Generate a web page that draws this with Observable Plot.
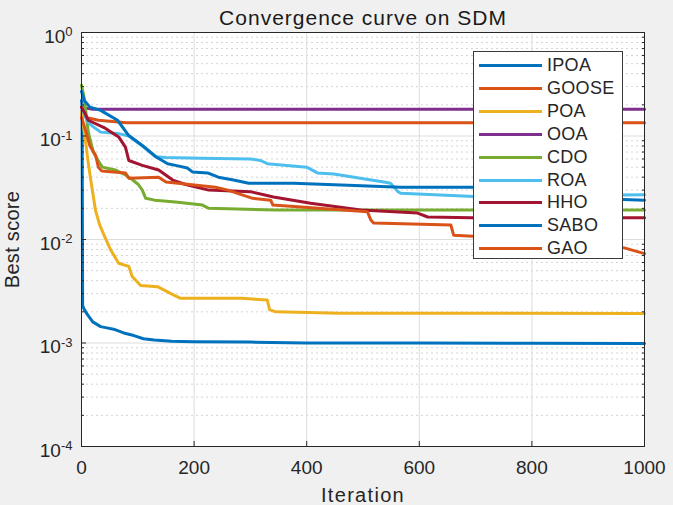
<!DOCTYPE html>
<html><head><meta charset="utf-8">
<script src="https://cdn.jsdelivr.net/npm/d3@7"></script>
<script src="https://cdn.jsdelivr.net/npm/@observablehq/plot@0.6"></script>
<style>
body{margin:0;background:#f0f0f0;font-family:"Liberation Sans",Arial,sans-serif;}
#wrap{position:relative;width:673px;height:505px;overflow:hidden;}
#legend{position:absolute;left:473px;top:51px;width:148px;height:206px;background:#fff;border:1px solid #3a3a3a;}
.row{position:absolute;left:0;width:148px;height:22px;}
.sw{position:absolute;left:5px;width:63px;height:3px;top:10px;}
.lb{position:absolute;left:73px;top:1px;font-size:18px;line-height:20px;color:#262626;letter-spacing:0.3px;}
</style></head><body><div id="wrap"></div><script>
// Convergence data: [iteration, best score]
const IPOA = [[0,0.22],[1,0.2],[2,0.0023],[5,0.0021],[10,0.0019],[20,0.0016],[34,0.00144],[45,0.0014],[57,0.00136],[75,0.00125],[93,0.00118],[110,0.0011],[129,0.00107],[160,0.00104],[200,0.00103],[300,0.00102],[400,0.001],[600,0.001],[800,0.000995],[1000,0.00099]];
const GOOSE = [[0,0.16],[10,0.15],[30,0.142],[60,0.137],[80,0.134],[1000,0.134]];
const POA = [[0,0.17],[3,0.13],[6,0.1],[12,0.055],[18,0.033],[25,0.019],[32,0.014],[40,0.011],[52,0.0079],[66,0.0059],[84,0.0055],[90,0.0044],[105,0.0036],[135,0.0035],[164,0.0029],[176,0.0027],[284,0.0027],[330,0.0026],[334,0.0021],[345,0.002],[460,0.00194],[1000,0.00193]];
const OOA = [[0,0.2],[8,0.186],[20,0.181],[1000,0.181]];
const CDO = [[0,0.31],[5,0.23],[12,0.109],[21,0.07],[32,0.055],[37,0.05],[60,0.047],[78,0.042],[90,0.038],[101,0.034],[108,0.03],[114,0.025],[130,0.024],[167,0.023],[215,0.0215],[226,0.02],[345,0.0193],[1000,0.0193]];
const ROA = [[0,0.2],[5,0.16],[12,0.135],[19,0.125],[34,0.109],[64,0.106],[84,0.1],[108,0.08],[132,0.063],[150,0.062],[212,0.061],[300,0.06],[318,0.058],[330,0.054],[400,0.05],[419,0.044],[448,0.043],[537,0.036],[549,0.035],[562,0.029],[567,0.028],[697,0.026],[1000,0.027]];
const HHO = [[0,0.19],[5,0.17],[12,0.142],[42,0.119],[66,0.098],[78,0.078],[84,0.058],[108,0.052],[137,0.047],[162,0.0375],[185,0.034],[226,0.03],[300,0.029],[341,0.0257],[407,0.0224],[496,0.0193],[597,0.018],[615,0.0165],[692,0.0162],[1000,0.0162]];
const SABO = [[0,0.27],[5,0.22],[15,0.19],[34,0.177],[64,0.142],[84,0.101],[108,0.081],[132,0.063],[153,0.054],[167,0.052],[188,0.049],[197,0.045],[224,0.044],[243,0.04],[270,0.0375],[297,0.035],[377,0.035],[473,0.0335],[567,0.032],[709,0.032],[880,0.031],[900,0.025],[1000,0.024]];
const GAO = [[0,0.15],[8,0.11],[15,0.08],[25,0.065],[30,0.05],[36,0.046],[78,0.044],[84,0.039],[137,0.04],[150,0.036],[238,0.032],[260,0.03],[304,0.025],[336,0.024],[340,0.0215],[508,0.0185],[514,0.0154],[519,0.0144],[656,0.0138],[661,0.011],[704,0.0107],[800,0.0104],[900,0.0095],[964,0.0083],[1000,0.0073]];

const names = ["IPOA","GOOSE","POA","OOA","CDO","ROA","HHO","SABO","GAO"];
const seriesData = [IPOA,GOOSE,POA,OOA,CDO,ROA,HHO,SABO,GAO];
const colors = ["#0072BD","#D95319","#EDB120","#7E2F8E","#77AC30","#4DBEEE","#A2142F","#0072BD","#D95319"];
const xTicks = [0,200,400,600,800,1000];
const yExponents = [-4,-3,-2,-1,0];
const yMajor = yExponents.map(e => Math.pow(10,e));
const yMinor = [];
for (const e of [-4,-3,-2,-1]) for (let k=2;k<=9;k++) yMinor.push(k*Math.pow(10,e));
const titleText = "Convergence curve on SDM";
const xLabel = "Iteration";
const yLabel = "Best score";

const lines = seriesData.map((s,i) => Plot.line(s.map(([it,v]) => ({it, v})), {x:"it", y:"v", stroke:colors[i], strokeWidth:3, strokeLinejoin:"round"}));

const chart = Plot.plot({
  width:673, height:505,
  marginTop:32, marginRight:29, marginBottom:59, marginLeft:81,
  style:{background:"transparent", fontFamily:"'Liberation Sans', Arial, sans-serif", fontSize:"19px", color:"#262626"},
  x:{domain:[0,1000]},
  y:{type:"log", domain:[1e-4,1]},
  marks:[
    Plot.frame({fill:"white"}),
    Plot.gridY(yMinor,{stroke:"#d4d4d4", strokeOpacity:1, strokeDasharray:"2,3"}),
    Plot.gridY(yMajor,{stroke:"#dcdcdc", strokeOpacity:1}),
    Plot.gridX(xTicks,{stroke:"#dcdcdc", strokeOpacity:1}),
    ...lines,
    Plot.axisX(xTicks,{tickSize:0, tickPadding:14, fontSize:19, tickFormat:(d)=>String(d), label:xLabel, labelAnchor:"center", labelArrow:"none", labelOffset:55}),
    Plot.axisX(xTicks,{anchor:"bottom", tickSize:-5, tickFormat:()=>"", label:null}),
    Plot.axisY(yMajor,{tickSize:0, tickPadding:9, dy:4, fontSize:19, tickFormat:(d)=>"10^"+Math.round(Math.log10(d)), label:yLabel, labelAnchor:"center", labelArrow:"none", labelOffset:77}),
    Plot.axisY(yMinor,{anchor:"left", tickSize:-3, tickFormat:()=>"", label:null}),
    Plot.axisY(yMinor,{anchor:"right", tickSize:-3, tickFormat:()=>"", label:null}),
    Plot.axisY(yMajor,{anchor:"left", tickSize:-5, tickFormat:()=>"", label:null}),
    Plot.frame({stroke:"#262626"}),
    Plot.text([titleText],{frameAnchor:"top", lineAnchor:"bottom", dy:-8, fontSize:21, fill:"#1a1a1a"})
  ]
});
document.getElementById("wrap").appendChild(chart);

// superscript exponents in y tick labels
d3.select(chart).selectAll('g[aria-label="y-axis tick label"] text').each(function(){
  const t = d3.select(this).text();
  if (!t || t.indexOf("^")<0) return;
  const [base, exp] = t.split("^");
  const el = d3.select(this);
  el.text(null);
  el.append("tspan").text(base);
  el.append("tspan").attr("dy","-0.5em").attr("font-size","13px").text(exp);
});
d3.select(chart).selectAll('g[aria-label="text"] text').attr("letter-spacing","1px");
d3.select(chart).selectAll('g[aria-label="x-axis label"] text').attr("font-size","20px").attr("letter-spacing","1.3px");
d3.select(chart).selectAll('g[aria-label="y-axis label"] text').attr("font-size","20px").attr("letter-spacing","0.3px");

// legend
const leg = document.createElement("div");
leg.id = "legend";
names.forEach((n,i) => {
  const r = document.createElement("div");
  r.className = "row";
  r.style.top = (2 + i*22.9) + "px";
  r.innerHTML = `<div class="sw" style="background:${colors[i]}"></div><div class="lb">${n}</div>`;
  leg.appendChild(r);
});
document.getElementById("wrap").appendChild(leg);
</script></body></html>
